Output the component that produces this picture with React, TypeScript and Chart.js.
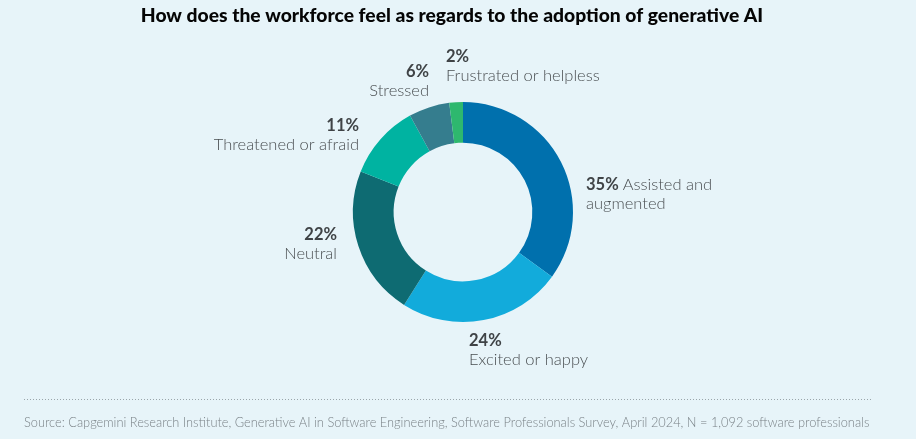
import React, { useEffect, useRef } from "react";
import { Chart, registerables } from "chart.js";

Chart.register(...registerables);

const TITLE = "How does the workforce feel as regards to the adoption of generative AI";
const SOURCE =
  "Source: Capgemini Research Institute, Generative AI in Software Engineering, Software Professionals Survey, April 2024, N = 1,092 software professionals";

const categories = [
  "Assisted and augmented",
  "Excited or happy",
  "Neutral",
  "Threatened or afraid",
  "Stressed",
  "Frustrated or helpless",
];
const values = [35, 24, 22, 11, 6, 2];
const colors = ["#0070AD", "#12ABDB", "#0E6B72", "#00B3A1", "#357D8E", "#2EB86E"];

// label layout: text split, alignment and offset from the donut centre
const labelLayout = [
  { first: "Assisted and", second: "augmented", align: "left", dx: 123, dy: -27 },
  { first: "", second: "Excited or happy", align: "left", dx: 6, dy: 129 },
  { first: "", second: "Neutral", align: "right", dx: -126, dy: 23 },
  { first: "", second: "Threatened or afraid", align: "right", dx: -104, dy: -86 },
  { first: "", second: "Stressed", align: "right", dx: -34, dy: -140 },
  { first: "", second: "Frustrated or helpless", align: "left", dx: -17, dy: -155 },
];

const BOLD = "bold 16.5px Lato, 'Open Sans', sans-serif";
const LIGHT = "300 16.5px Lato, 'Open Sans', sans-serif";

const textPlugin = {
  id: "textPlugin",
  afterDraw(chart: any) {
    const ctx = chart.ctx as CanvasRenderingContext2D;
    const meta = chart.getDatasetMeta(0);
    ctx.save();
    // title
    ctx.fillStyle = "#050505";
    ctx.font = "900 19.3px Lato, 'Open Sans', sans-serif";
    ctx.textAlign = "center";
    ctx.textBaseline = "middle";
    ctx.fillText(TITLE, 452, 16);

    // labels
    meta.data.forEach((arc: any, i: number) => {
      const L = labelLayout[i];
      const x = arc.x + L.dx;
      const y1 = arc.y + L.dy;
      const y2 = y1 + 19;
      const pct = values[i] + "%";
      ctx.textBaseline = "middle";
      if (L.align === "left") {
        ctx.textAlign = "left";
        ctx.font = BOLD;
        ctx.fillStyle = "#3f4346";
        ctx.fillText(pct, x, y1);
        if (L.first) {
          const w = ctx.measureText(pct + " ").width;
          ctx.font = LIGHT;
          ctx.fillStyle = "#4a4f52";
          ctx.fillText(L.first, x + w, y1);
        }
        ctx.font = LIGHT;
        ctx.fillStyle = "#4a4f52";
        ctx.fillText(L.second, x, y2);
      } else {
        ctx.textAlign = "right";
        ctx.font = BOLD;
        ctx.fillStyle = "#3f4346";
        ctx.fillText(pct, x, y1);
        ctx.font = LIGHT;
        ctx.fillStyle = "#4a4f52";
        ctx.fillText(L.second, x, y2);
      }
    });

    // dotted separator
    ctx.strokeStyle = "#9aa5aa";
    ctx.lineWidth = 1;
    ctx.setLineDash([1, 2]);
    ctx.beginPath();
    ctx.moveTo(24, 399.5);
    ctx.lineTo(871, 399.5);
    ctx.stroke();
    ctx.setLineDash([]);

    // source
    ctx.font = "300 12.8px Lato, 'Open Sans', sans-serif";
    ctx.fillStyle = "#7a8287";
    ctx.textAlign = "left";
    ctx.textBaseline = "middle";
    ctx.fillText(SOURCE, 24, 423);
    ctx.restore();
  },
};

export default function App() {
  const ref = useRef<HTMLCanvasElement | null>(null);
  useEffect(() => {
    if (!ref.current) return;
    const chart = new Chart(ref.current, {
      type: "doughnut",
      data: {
        labels: categories,
        datasets: [
          {
            data: values,
            backgroundColor: colors,
            borderWidth: 0,
          },
        ],
      },
      options: {
        responsive: false,
        animation: false,
        devicePixelRatio: 1,
        cutout: "63%",
        layout: { padding: { top: 102, bottom: 117, left: 353, right: 343 } },
        plugins: {
          legend: { display: false },
          tooltip: { enabled: false },
          title: { display: false },
        },
      },
      plugins: [textPlugin],
    });
    return () => chart.destroy();
  }, []);
  return (
    <div
      style={{
        position: "fixed",
        left: 0,
        top: 0,
        width: 916,
        height: 439,
        background: "#E7F4F9",
      }}
    >
      <canvas ref={ref} width={916} height={439} style={{ width: 916, height: 439 }} />
    </div>
  );
}
